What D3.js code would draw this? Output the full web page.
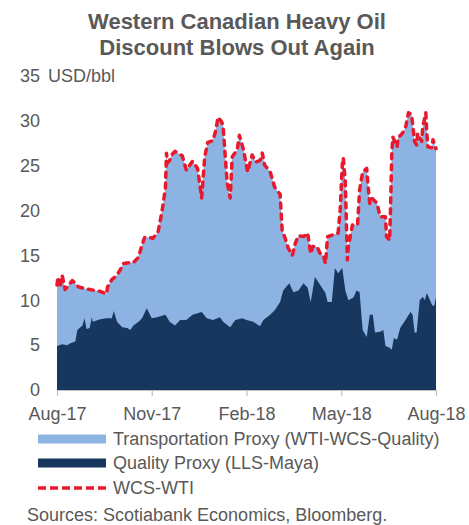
<!DOCTYPE html>
<html><head><meta charset="utf-8">
<script src="https://cdn.jsdelivr.net/npm/d3@7"></script>
<style>
html,body{margin:0;padding:0;background:#fff;}
svg{display:block;font-family:"Liberation Sans",Arial,sans-serif;}
</style></head>
<body>
<svg id="chart" width="469" height="525"></svg>
<script>
// ---------- DATA ----------
const titleLines = ["Western Canadian Heavy Oil", "Discount Blows Out Again"];
const yUnit = "USD/bbl";
const yTicks = [0, 5, 10, 15, 20, 25, 30, 35];
const xTickDates = ["2017-08-01", "2017-11-01", "2018-02-01", "2018-05-01", "2018-08-01"];
const xTickLabels = ["Aug-17", "Nov-17", "Feb-18", "May-18", "Aug-18"];
const seriesNames = ["Transportation Proxy (WTI-WCS-Quality)", "Quality Proxy (LLS-Maya)", "WCS-WTI"];
const sourceText = "Sources: Scotiabank Economics, Bloomberg.";

// WCS-WTI discount (top of stacked area)
const wcsDates = [
 "2017-08-01","2017-08-02","2017-08-04","2017-08-06","2017-08-09","2017-08-16","2017-08-22","2017-08-28",
 "2017-09-07","2017-09-12","2017-09-18","2017-09-19","2017-09-23","2017-09-28",
 "2017-10-02","2017-10-04","2017-10-11","2017-10-14","2017-10-19","2017-10-22","2017-10-25","2017-10-30",
 "2017-11-02","2017-11-07","2017-11-11","2017-11-14","2017-11-15","2017-11-16","2017-11-18","2017-11-20","2017-11-23","2017-11-30",
 "2017-12-04","2017-12-10","2017-12-15","2017-12-19","2017-12-22","2017-12-25","2017-12-30",
 "2018-01-02","2018-01-04","2018-01-07","2018-01-09","2018-01-13","2018-01-16","2018-01-18","2018-01-23","2018-01-25","2018-01-29",
 "2018-02-02","2018-02-06","2018-02-09","2018-02-13","2018-02-15","2018-02-17","2018-02-22","2018-02-26",
 "2018-03-03","2018-03-05","2018-03-08","2018-03-11","2018-03-15","2018-03-18","2018-03-21","2018-03-26","2018-03-30",
 "2018-04-02","2018-04-04","2018-04-08","2018-04-11","2018-04-14","2018-04-16","2018-04-18","2018-04-23","2018-04-28","2018-04-30",
 "2018-05-02","2018-05-03","2018-05-05","2018-05-07","2018-05-08","2018-05-12","2018-05-17","2018-05-19","2018-05-22","2018-05-26","2018-05-27","2018-05-29","2018-05-31",
 "2018-06-05","2018-06-08","2018-06-13","2018-06-14","2018-06-17","2018-06-18","2018-06-19","2018-06-20","2018-06-24","2018-06-25","2018-06-29",
 "2018-07-02","2018-07-05","2018-07-08","2018-07-11","2018-07-13","2018-07-14","2018-07-18","2018-07-19","2018-07-22","2018-07-23","2018-07-24","2018-07-28","2018-07-29",
 "2018-08-01"
];
const wcsWti = [
 11.7,12.6,11.4,12.8,11.2,12.2,11.5,11.3,
 11.1,11.0,10.7,11.5,12.3,12.8,
 13.6,14.1,14.2,14.2,14.8,16.0,17.0,17.0,
 16.9,17.6,20.1,22.5,26.4,25.3,25.6,26.2,26.6,26.1,
 24.5,25.5,24.7,21.4,26.0,27.6,27.8,
 29.0,30.4,30.0,29.5,23.1,21.4,26.0,26.8,28.4,26.8,
 24.3,26.2,25.4,25.6,26.4,25.1,24.3,22.6,
 21.8,17.8,16.9,15.8,15.0,16.4,17.2,17.1,17.5,
 15.2,16.0,16.0,15.2,15.0,14.1,17.1,17.3,17.5,20.1,
 25.1,25.9,23.1,14.5,16.0,18.4,18.4,22.3,24.3,24.7,23.1,20.8,21.4,
 20.8,19.3,19.3,17.1,16.7,21.2,26.4,28.2,27.1,28.1,28.6,
 29.2,30.9,30.7,27.7,27.3,28.6,27.7,29.3,30.9,28.6,27.1,27.0,27.9,
 26.9
];

// Quality proxy (LLS-Maya), bottom layer of the stack
const qualityDates = [
 "2017-08-01","2017-08-06","2017-08-11","2017-08-14","2017-08-19","2017-08-21","2017-08-26","2017-08-28","2017-08-30",
 "2017-09-02","2017-09-04","2017-09-05","2017-09-12","2017-09-18","2017-09-23","2017-09-25","2017-09-28",
 "2017-10-03","2017-10-08","2017-10-11","2017-10-14","2017-10-19","2017-10-21","2017-10-23","2017-10-27","2017-10-29",
 "2017-11-01","2017-11-06","2017-11-14","2017-11-18","2017-11-23","2017-11-28",
 "2017-12-04","2017-12-10","2017-12-19","2017-12-24","2017-12-30",
 "2018-01-06","2018-01-09","2018-01-16","2018-01-21","2018-01-28",
 "2018-02-01","2018-02-07","2018-02-13","2018-02-16","2018-02-22","2018-02-26",
 "2018-03-03","2018-03-06","2018-03-12","2018-03-16","2018-03-21","2018-03-26","2018-03-30",
 "2018-04-02","2018-04-06","2018-04-11","2018-04-16","2018-04-18","2018-04-22","2018-04-25","2018-04-28",
 "2018-05-02","2018-05-05","2018-05-08","2018-05-13","2018-05-16","2018-05-19","2018-05-22","2018-05-26","2018-05-29",
 "2018-06-01","2018-06-03","2018-06-08","2018-06-11","2018-06-13","2018-06-17","2018-06-19","2018-06-21","2018-06-24","2018-06-27",
 "2018-07-02","2018-07-07","2018-07-09","2018-07-11","2018-07-13","2018-07-16","2018-07-19","2018-07-21","2018-07-23","2018-07-28","2018-07-30",
 "2018-08-01"
];
const qualityProxy = [
 4.9,5.1,5.0,5.2,5.4,6.7,7.2,8.0,6.8,
 6.9,8.1,7.6,7.9,8.0,8.0,8.8,7.6,
 7.0,6.9,6.7,7.2,7.6,7.8,8.1,9.1,8.7,
 8.0,8.1,8.4,7.6,7.2,7.8,
 7.8,8.4,8.7,8.0,7.8,
 8.1,7.6,7.0,7.8,8.0,
 7.8,7.6,7.1,7.8,8.4,8.9,
 9.8,11.1,11.9,10.9,11.1,11.9,11.4,
 9.8,12.6,11.7,10.8,9.8,9.8,13.6,13.0,
 13.6,11.1,10.0,10.3,11.1,10.9,6.7,5.9,8.4,
 8.4,6.4,6.5,6.7,4.9,4.7,4.5,5.8,5.6,6.9,
 7.8,8.7,8.4,6.4,6.4,10.0,10.4,10.0,10.8,9.5,9.3,
 10.3
];

// ---------- COLOURS ----------
const cLight = "#8DB3E2", cDark = "#17375E", cRed = "#E8192C", cText = "#595959", cAxis = "#BFBFBF";

// month-based position (Excel-like evenly spaced months)
function monthPos(s) {
  const [yy, mm, dd] = s.split("-").map(Number);
  const dim = new Date(yy, mm, 0).getDate();
  return (yy - 2017) * 12 + (mm - 8) + (dd - 1) / dim;
}

const svg = d3.select("#chart");
const x = d3.scaleLinear().domain([0, 12]).range([57, 436]);
const y = d3.scaleLinear().domain([0, 35]).range([390, 76]);

const wcs = wcsDates.map((d, i) => ({p: monthPos(d), v: wcsWti[i]}));
const qual = qualityDates.map((d, i) => ({p: monthPos(d), v: qualityProxy[i]}));

// Transportation proxy layer: stacked on the quality layer, its top is WCS-WTI
svg.append("path")
  .datum(wcs)
  .attr("fill", cLight)
  .attr("d", d3.area().x(d => x(d.p)).y0(y(0)).y1(d => y(d.v)));

// Quality proxy layer
svg.append("path")
  .datum(qual)
  .attr("fill", cDark)
  .attr("d", d3.area().x(d => x(d.p)).y0(y(0)).y1(d => y(d.v)));

// WCS-WTI dashed line
svg.append("path")
  .datum(wcs)
  .attr("fill", "none")
  .attr("stroke", cRed)
  .attr("stroke-width", 3.5)
  .attr("stroke-dasharray", "5,6")
  .attr("stroke-linecap", "round")
  .attr("stroke-linejoin", "round")
  .attr("d", d3.line().x(d => x(d.p)).y(d => y(d.v)));

// X axis
const xAxis = svg.append("g")
  .attr("transform", `translate(0,${y(0)})`)
  .call(d3.axisBottom(x)
    .tickValues(xTickDates.map(monthPos))
    .tickFormat((d, i) => xTickLabels[i])
    .tickSize(6).tickSizeOuter(0));
xAxis.select(".domain").attr("stroke", cAxis).attr("stroke-width", 1.2);
xAxis.selectAll(".tick line").attr("stroke", cAxis).attr("stroke-width", 1.2);
xAxis.selectAll(".tick text")
  .attr("y", 17).attr("dy", "0.71em")
  .attr("fill", cText).style("font-size", "18px")
  .style("font-family", '"Liberation Sans", Arial, sans-serif');

// Y axis (labels only)
const yAxis = svg.append("g")
  .attr("transform", "translate(43,0)")
  .call(d3.axisLeft(y).tickValues(yTicks).tickSize(0).tickPadding(3));
yAxis.select(".domain").remove();
yAxis.selectAll(".tick text")
  .attr("fill", cText).style("font-size", "18px")
  .style("font-family", '"Liberation Sans", Arial, sans-serif');

svg.append("text")
  .attr("x", 48).attr("y", y(35)).attr("dy", "0.32em")
  .attr("fill", cText).style("font-size", "18px")
  .text(yUnit);

// Title
svg.selectAll("text.title").data(titleLines).enter().append("text")
  .attr("class", "title")
  .attr("x", 237).attr("y", (d, i) => 29 + i * 26)
  .attr("text-anchor", "middle")
  .attr("fill", cText).style("font-size", "22px").style("font-weight", "bold")
  .text(d => d);

// Legend
const legY = [439, 463, 488];
const leg = svg.append("g");
leg.append("rect").attr("x", 38).attr("y", legY[0] - 4.5).attr("width", 68).attr("height", 9).attr("fill", cLight);
leg.append("rect").attr("x", 38).attr("y", legY[1] - 4.5).attr("width", 68).attr("height", 9).attr("fill", cDark);
leg.append("line").attr("x1", 38).attr("x2", 106).attr("y1", legY[2]).attr("y2", legY[2])
  .attr("stroke", cRed).attr("stroke-width", 3.5).attr("stroke-dasharray", "8,4");
leg.selectAll("text").data(seriesNames).enter().append("text")
  .attr("x", 113).attr("y", (d, i) => legY[i]).attr("dy", "0.35em")
  .attr("fill", cText).style("font-size", "18px")
  .text(d => d);

// Source
svg.append("text")
  .attr("x", 27).attr("y", 521)
  .attr("fill", cText).style("font-size", "18px")
  .text(sourceText);
</script>
</body></html>
